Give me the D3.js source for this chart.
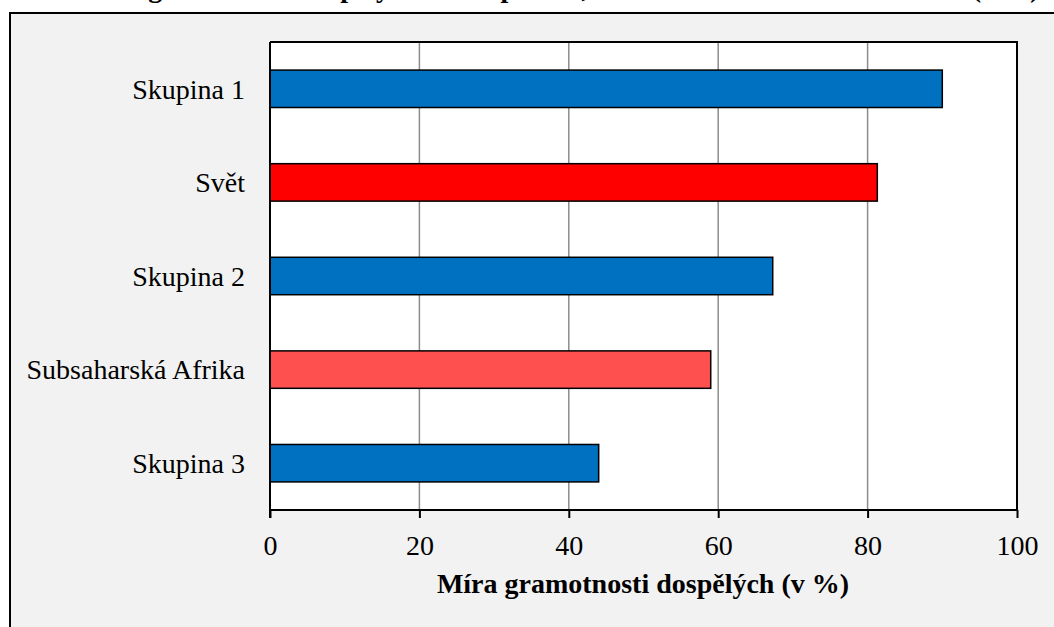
<!DOCTYPE html>
<html>
<head>
<meta charset="utf-8">
<script src="https://cdn.jsdelivr.net/npm/d3@7"></script>
<style>
  body { margin: 0; background: #fff; }
  svg text { font-family: "Liberation Serif", "DejaVu Serif", serif; }
</style>
</head>
<body>
<script>
(function(){

    // data
    var categories = ["Skupina 1", "Svět", "Skupina 2", "Subsaharská Afrika", "Skupina 3"];
    var values = [90.0, 81.3, 67.3, 59.0, 44.0];
    var barColors = ["#0070c0", "#ff0000", "#0070c0", "#ff5050", "#0070c0"];
    var xTicks = [0, 20, 40, 60, 80, 100];

    var titleText = "Míra gramotnosti dospělých ve skupinách, ve světě a v subsaharské Africe (v %)";
    var axisTitle = "Míra gramotnosti dospělých (v %)";

    var serif = "'Liberation Serif', 'Times New Roman', serif";

    var width = 1054,
        height = 627;

    var svg = d3.select("body")
        .append("svg")
        .attr("width", width)
        .attr("height", height);

    // chart title, cut off by the top of the picture (as in the reference)
    svg.append("text")
        .attr("x", 560)
        .attr("y", -3)
        .attr("text-anchor", "middle")
        .style("font-family", serif)
        .style("font-size", "28px")
        .style("font-weight", "bold")
        .text(titleText);

    // outer frame
    svg.append("rect")
        .attr("x", 10)
        .attr("y", 13)
        .attr("width", 1100)
        .attr("height", 700)
        .attr("fill", "#f2f2f2")
        .attr("stroke", "#000")
        .attr("stroke-width", 2);

    var plot = { left: 270, right: 1017, top: 42, bottom: 510 };

    var x = d3.scaleLinear()
        .domain([0, 100])
        .range([plot.left, plot.right]);

    var y = d3.scaleBand()
        .domain(categories)
        .range([plot.top, plot.bottom])
        .paddingInner(0.6)
        .paddingOuter(0.3);

    // plot area
    svg.append("rect")
        .attr("x", plot.left)
        .attr("y", plot.top)
        .attr("width", plot.right - plot.left)
        .attr("height", plot.bottom - plot.top)
        .attr("fill", "#fff");

    // gridlines
    svg.selectAll(".grid")
        .data(xTicks.slice(1, -1))
        .enter()
        .append("line")
        .attr("class", "grid")
        .attr("x1", function(d){ return x(d); })
        .attr("x2", function(d){ return x(d); })
        .attr("y1", plot.top)
        .attr("y2", plot.bottom)
        .attr("stroke", "#8c8c8c")
        .attr("stroke-width", 1.5);

    // bars
    svg.selectAll(".bar")
        .data(values)
        .enter()
        .append("rect")
        .attr("class", "bar")
        .attr("x", x(0))
        .attr("y", function(d, i){ return y(categories[i]); })
        .attr("width", function(d){ return x(d) - x(0); })
        .attr("height", y.bandwidth())
        .attr("fill", function(d, i){ return barColors[i]; })
        .attr("stroke", "#000")
        .attr("stroke-width", 1.5);

    // plot border (top and right)
    svg.append("path")
        .attr("d", "M" + plot.left + "," + plot.top + "H" + plot.right + "V" + plot.bottom)
        .attr("fill", "none")
        .attr("stroke", "#000")
        .attr("stroke-width", 2);

    // x axis
    var xAxis = svg.append("g")
        .attr("transform", "translate(0," + plot.bottom + ")")
        .call(d3.axisBottom(x).tickValues(xTicks).tickSize(8).tickPadding(0).tickFormat(d3.format("d")));

    xAxis.attr("font-family", null);
    xAxis.select(".domain")
        .attr("d", "M" + plot.left + ",0H" + plot.right)
        .attr("stroke", "#000")
        .attr("stroke-width", 2);
    xAxis.selectAll(".tick line")
        .attr("stroke", "#000")
        .attr("stroke-width", 2);
    xAxis.selectAll(".tick text")
        .attr("y", 45)
        .attr("dy", null)
        .attr("fill", "#000")
        .style("font-family", serif)
        .style("font-size", "28px");

    // y axis line
    svg.append("line")
        .attr("x1", plot.left)
        .attr("x2", plot.left)
        .attr("y1", plot.top)
        .attr("y2", plot.bottom + 8)
        .attr("stroke", "#000")
        .attr("stroke-width", 2);

    // category labels
    svg.selectAll(".cat")
        .data(categories)
        .enter()
        .append("text")
        .attr("class", "cat")
        .attr("x", plot.left - 25)
        .attr("y", function(d){ return y(d) + y.bandwidth() / 2; })
        .attr("dy", "0.35em")
        .attr("text-anchor", "end")
        .style("font-family", serif)
        .style("font-size", "28px")
        .text(function(d){ return d; });

    // axis title
    svg.append("text")
        .attr("x", 643)
        .attr("y", 593)
        .attr("text-anchor", "middle")
        .style("font-family", serif)
        .style("font-size", "28px")
        .style("font-weight", "bold")
        .text(axisTitle);

})();
</script>
</body>
</html>
